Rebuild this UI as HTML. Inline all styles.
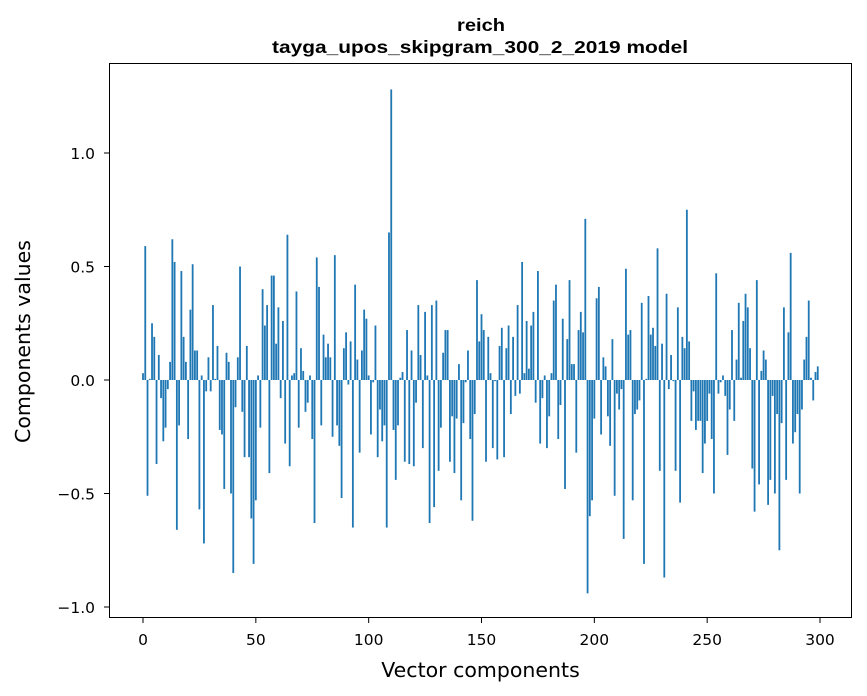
<!DOCTYPE html>
<html><head><meta charset="utf-8">
<style>
html,body{margin:0;padding:0;background:#fff;}
svg{display:block;font-family:"DejaVu Sans","Liberation Sans",sans-serif;}
</style></head>
<body>
<svg id="chart" width="867" height="696" viewBox="0 0 867 696" xmlns="http://www.w3.org/2000/svg">
<rect width="867" height="696" fill="#fff"/>
<text x="481" y="31" text-anchor="middle" font-size="17.5" font-weight="bold" font-family="Liberation Sans, sans-serif" textLength="48" lengthAdjust="spacingAndGlyphs">reich</text>
<text x="480" y="53" text-anchor="middle" font-size="17.5" font-weight="bold" font-family="Liberation Sans, sans-serif" textLength="416" lengthAdjust="spacingAndGlyphs">tayga_upos_skipgram_300_2_2019 model</text>
<g id="bars"></g>
<g id="xticks"></g>
<g id="yticks"></g>
<rect x="109.5" y="63.5" width="742" height="554" fill="none" stroke="#000" stroke-width="1"/>
<text x="480.5" y="677" text-anchor="middle" font-size="20.5">Vector components</text>
<text x="0" y="0" transform="translate(30,341.5) rotate(-90)" text-anchor="middle" font-size="20.5">Components values</text>
</svg>
<script>
const values = [
0.03,0.59,-0.51,0.005,0.25,0.19,-0.37,0.11,-0.08,-0.27,
-0.21,-0.04,0.08,0.62,0.52,-0.66,-0.20,0.48,0.19,0.08,
-0.26,0.31,0.51,0.13,0.13,-0.57,0.02,-0.72,-0.05,0.10,
-0.05,0.33,0.005,0.15,-0.22,-0.24,-0.48,0.12,0.08,-0.50,
-0.85,-0.12,0.10,0.50,-0.14,-0.34,0.15,-0.34,-0.61,-0.81,
-0.53,0.02,-0.21,0.40,0.24,0.33,-0.41,0.46,0.46,0.16,
0.32,-0.08,0.26,-0.28,0.64,-0.38,0.02,0.03,0.39,-0.21,
0.14,0.04,-0.14,-0.10,0.02,-0.26,-0.63,0.54,0.41,-0.20,
0.20,0.10,0.16,0.10,-0.25,0.55,-0.20,-0.29,-0.52,0.14,
0.21,-0.02,0.17,-0.65,0.42,0.09,-0.32,0.13,0.31,0.27,
0.02,-0.24,-0.01,0.24,-0.34,-0.13,-0.27,-0.20,-0.65,0.65,
1.28,-0.22,-0.44,-0.20,0.01,0.035,-0.36,0.22,-0.37,0.13,
-0.38,-0.10,0.33,0.11,-0.30,0.30,0.02,-0.63,0.33,-0.56,
0.35,-0.40,-0.21,0.12,0.22,0.22,-0.36,-0.16,-0.41,-0.17,
0.07,-0.53,-0.19,-0.01,0.13,-0.26,-0.62,-0.15,0.44,0.17,
0.29,0.22,-0.36,0.19,0.03,-0.30,-0.005,-0.35,0.15,0.23,
-0.34,0.14,0.24,-0.15,0.19,-0.07,0.33,-0.06,0.52,0.03,
0.26,0.05,0.24,0.30,-0.10,0.48,-0.28,-0.08,0.02,-0.30,
-0.16,0.03,0.35,0.42,-0.26,-0.11,0.27,-0.48,0.18,0.44,
0.07,0.07,-0.32,0.22,0.30,0.21,0.71,-0.94,-0.60,-0.53,
-0.17,0.36,0.41,-0.24,0.10,0.06,-0.16,-0.29,0.18,-0.51,
-0.06,-0.13,-0.04,-0.70,0.49,0.20,0.22,-0.53,-0.15,-0.13,
-0.09,0.34,-0.81,0.005,0.37,0.20,0.23,0.15,0.58,-0.40,
0.16,-0.87,0.38,-0.04,0.11,-0.005,-0.40,0.32,-0.54,0.19,
0.14,0.75,0.17,-0.18,-0.05,-0.22,-0.18,-0.18,-0.41,-0.28,
-0.18,-0.06,-0.26,-0.50,0.47,-0.06,-0.01,0.02,-0.07,-0.33,
-0.13,0.22,-0.18,0.09,0.34,0.01,0.26,0.38,0.32,0.14,
-0.39,-0.58,0.44,-0.46,0.04,0.13,0.09,-0.55,-0.44,-0.07,
-0.50,-0.15,-0.75,-0.19,0.32,-0.44,0.21,0.56,-0.28,-0.23,
-0.15,-0.50,-0.13,0.09,0.19,0.35,0.01,-0.09,0.035,0.06
];
const xTicks = [0,50,100,150,200,250,300];
const yTicks = [-1.0,-0.5,0.0,0.5,1.0];
const yTickLabels = ["\u22121.0","\u22120.5","0.0","0.5","1.0"];

const NS = "http://www.w3.org/2000/svg";
function xScale(v){ return 143 + v * 2.2567; }
function yScale(v){ return 380 - v * 227; }
const barW = 0.8 * 2.2567;

const gb = document.getElementById('bars');
values.forEach((v,i)=>{
  const r = document.createElementNS(NS,'rect');
  const y0 = yScale(0), y1 = yScale(v);
  r.setAttribute('x', xScale(i) - barW/2);
  r.setAttribute('y', Math.min(y0,y1));
  r.setAttribute('width', barW);
  r.setAttribute('height', Math.max(Math.abs(y1-y0),0.3));
  r.setAttribute('fill', '#1f77b4');
  
  
  gb.appendChild(r);
});

const gx = document.getElementById('xticks');
xTicks.forEach(t=>{
  const x = xScale(t);
  const l = document.createElementNS(NS,'line');
  l.setAttribute('x1',x); l.setAttribute('x2',x);
  l.setAttribute('y1',618); l.setAttribute('y2',623);
  l.setAttribute('stroke','#000');
  
  
  gx.appendChild(l);
  const tx = document.createElementNS(NS,'text');
  tx.setAttribute('x',x); tx.setAttribute('y',645);
  tx.setAttribute('text-anchor','middle'); tx.setAttribute('font-size','15.5');
  tx.textContent = String(t);
  
  
  gx.appendChild(tx);
});

const gy = document.getElementById('yticks');
yTicks.forEach((t,k)=>{
  const y = yScale(t);
  const l = document.createElementNS(NS,'line');
  l.setAttribute('x1',104); l.setAttribute('x2',109);
  l.setAttribute('y1',y); l.setAttribute('y2',y);
  l.setAttribute('stroke','#000');
  
  
  gy.appendChild(l);
  const tx = document.createElementNS(NS,'text');
  tx.setAttribute('x',95); tx.setAttribute('y',y+6);
  tx.setAttribute('text-anchor','end'); tx.setAttribute('font-size','15.5');
  tx.textContent = yTickLabels[k];
  
  
  gy.appendChild(tx);
});
</script>
</body></html>
